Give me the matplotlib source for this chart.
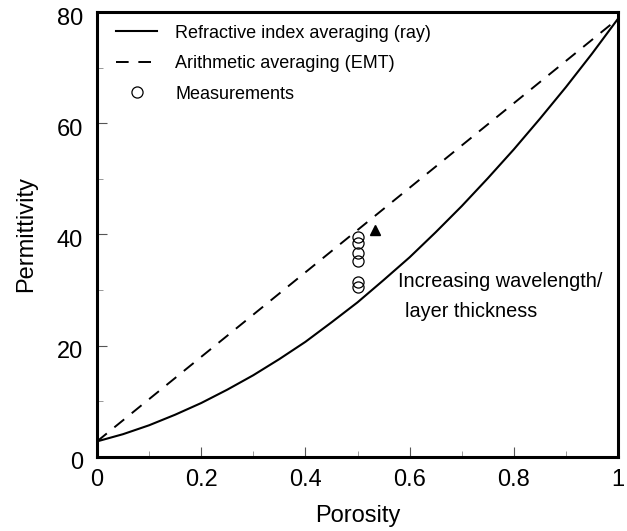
import numpy as np
import matplotlib
matplotlib.use("Agg")
import matplotlib.pyplot as plt
import matplotlib.transforms as mtransforms
from matplotlib.ticker import MultipleLocator

plt.rcParams['font.family'] = ['Liberation Sans', 'DejaVu Sans']

# ── DATA ──────────────────────────────────────────────────────────────────
porosity = [0.00, 0.05, 0.10, 0.15, 0.20, 0.25, 0.30, 0.35, 0.40, 0.45, 0.50,
            0.55, 0.60, 0.65, 0.70, 0.75, 0.80, 0.85, 0.90, 0.95, 1.00]
eps_ray = [2.8, 4.1, 5.7, 7.6, 9.7, 12.1, 14.7, 17.6, 20.7, 24.2, 27.8,
           31.8, 35.9, 40.4, 45.1, 50.1, 55.3, 60.8, 66.5, 72.5, 78.8]

emt_x = [0.0, 1.0]
emt_y = [2.8, 78.8]

meas_x = [0.50, 0.50, 0.50, 0.50, 0.50, 0.50]
meas_y = [39.6, 38.5, 36.7, 35.2, 31.4, 30.6]

tri_x = [0.534]
tri_y = [40.8]

# ── PLOT ──────────────────────────────────────────────────────────────────
fig = plt.figure(figsize=(6.27, 5.31), dpi=100)
ax = fig.add_axes([0.1547, 0.1394, 0.831, 0.838])

ax.plot(porosity, eps_ray, color='black', lw=1.5,
        label='Refractive index averaging (ray)')
ax.plot(emt_x, emt_y, color='black', lw=1.4, linestyle=(0, (6.5, 5)),
        label='Arithmetic averaging (EMT)')
ax.plot(meas_x, meas_y, linestyle='none', marker='o', ms=8, mfc='none',
        mec='black', mew=0.9, label='Measurements')
ax.plot(tri_x, tri_y, linestyle='none', marker='^', ms=7, color='black')

ax.text(0.577, 31.5, 'Increasing wavelength/', fontsize=14.3, va='center')
ax.text(0.591, 26.2, 'layer thickness', fontsize=14.3, va='center')

ax.set_xlim(0, 1)
ax.set_ylim(0, 80)
ax.xaxis.set_major_locator(MultipleLocator(0.2))
ax.xaxis.set_minor_locator(MultipleLocator(0.1))
ax.yaxis.set_major_locator(MultipleLocator(20))
ax.yaxis.set_minor_locator(MultipleLocator(10))
ax.xaxis.set_major_formatter(plt.FuncFormatter(lambda v, p: f'{v:g}'))
ax.tick_params(which='major', direction='in', length=7, width=0.8,
               labelsize=17, color='#555555')
ax.tick_params(axis='x', pad=9)
ax.tick_params(axis='y', pad=10)
ax.tick_params(which='minor', direction='in', length=4, width=0.6,
               color='#888888')
for s in ax.spines.values():
    s.set_linewidth(2.2)

# y tick labels sit a little low in the original
shift = mtransforms.ScaledTranslation(0, -4 / 100, fig.dpi_scale_trans)
for lbl in ax.get_yticklabels():
    lbl.set_transform(lbl.get_transform() + shift)

ax.set_xlabel('Porosity', fontsize=17, labelpad=10)
ax.set_ylabel('Permittivity', fontsize=17, labelpad=14)

ax.legend(loc='upper left', bbox_to_anchor=(0.012, 1.0), frameon=False,
          fontsize=13, handlelength=2.3, handletextpad=1.0,
          labelspacing=0.75, borderaxespad=0.3)

plt.savefig("out.png", dpi=100)
